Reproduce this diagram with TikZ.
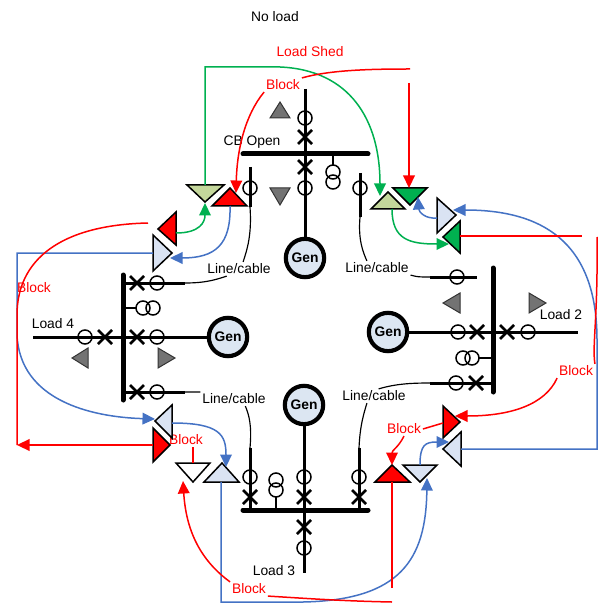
\documentclass[tikz,border=0pt]{standalone}
\usepackage{fontspec}
\setmainfont{Liberation Sans}
\usetikzlibrary{calc,arrows.meta}
\definecolor{sigred}{HTML}{FF0000}
\definecolor{siggreen}{HTML}{00B050}
\definecolor{sigblue}{HTML}{4472C4}
\definecolor{palblue}{HTML}{DAE3F3}
\definecolor{palolive}{HTML}{C4D79B}
\definecolor{genblue}{HTML}{DCE6F2}
\tikzset{
	bus/.style={line width=3pt, line cap=round},
	feeder/.style={line width=1.8pt},
	cable/.style={line width=0.7pt},
	cbline/.style={line width=1.5pt},
	ctline/.style={line width=0.9pt},
	gen/.style={circle, draw, line width=2.5pt, fill=genblue, minimum size=23pt, inner sep=0pt, font=\fontsize{8.3}{10}\selectfont\bfseries},
	lbl/.style={inner sep=1pt, font=\fontsize{8.3}{10}\selectfont},
	redlbl/.style={lbl, text=sigred},
	tri/.style={draw, line width=0.9pt, line join=miter},
	greytri/.style={draw=black!80, fill=black!55, line width=0.6pt},
	sig/.style={line width=0.9pt},
	sigarrow/.style={sig, -{Triangle[length=7.5pt,width=7pt]}},
}
\def\cbcross(#1){\draw[cbline] ($(#1)+(-7,-7)$) -- ($(#1)+(7,7)$) ($(#1)+(-7,7)$) -- ($(#1)+(7,-7)$);}
\def\ctring(#1){\draw[ctline] (#1) circle (4.2pt);}

\begin{document}
\begin{tikzpicture}[x=0.6pt, y=-0.6pt]
		%%%%% START %%%%%
		\useasboundingbox (0,0) rectangle (605,607);
		
		% top station
		\node[gen] (gen-top) at (305,258) {Gen};
		\draw[bus] (243,154) -- (368,154);
		\draw[feeder] (305,89) -- (gen-top);
		\ctring(305,118) \cbcross(305,137) \cbcross(305,167) \ctring(305,188)
		\draw[ctline] (333,154) -- (333,165);
		\ctring(333,172) \ctring(333,182)
		\draw[feeder] (250,167) -- (250,207);
		\draw[feeder] (360,173) -- (360,217);
		\ctring(250,188) \ctring(360,188)
		\draw[greytri] (270,118) -- (290,118) -- (280,102) -- cycle;
		\draw[greytri] (270,188) -- (290,188) -- (280,205) -- cycle;
		
		% left station
		\node[gen] (gen-left) at (228,337) {Gen};
		\draw[bus] (123,275) -- (123,400);
		\draw[feeder] (33,337) -- (gen-left);
		\draw[feeder] (123,283) -- (185,283);
		\draw[feeder] (123,392) -- (185,392);
		\draw[ctline] (123,308) -- (136,308);
		\ctring(143,308) \ctring(153,308)
		\ctring(85,337) \cbcross(105,337) \cbcross(137,337) \ctring(157,337)
		\cbcross(137,283) \ctring(157,283) \cbcross(137,392) \ctring(157,392)
		\draw[greytri] (88,348) -- (88,368) -- (72,358) -- cycle;
		\draw[greytri] (158,348) -- (158,368) -- (175,358) -- cycle;
		
		% right station
		\node[gen] (gen-right) at (388,332) {Gen};
		\draw[bus] (493,268) -- (493,392);
		\draw[feeder] (gen-right) -- (578,332);
		\draw[feeder] (430,277) -- (477,277);
		\draw[feeder] (430,383) -- (493,383);
		\draw[ctline] (478,358) -- (493,358);
		\ctring(463,358) \ctring(472,358)
		\ctring(458,332) \cbcross(477,332) \cbcross(507,332) \ctring(528,332)
		\ctring(457,277) \ctring(456,383) \cbcross(476,383)
		\draw[greytri] (460,293) -- (460,313) -- (443,303) -- cycle;
		\draw[greytri] (529,293) -- (529,313) -- (546,303) -- cycle;
		
		% bottom station
		\node[gen] (gen-bottom) at (304,405) {Gen};
		\draw[bus] (243,510) -- (368,510);
		\draw[feeder] (gen-bottom) -- (304,573);
		\draw[feeder] (250,448) -- (250,510);
		\draw[feeder] (359,448) -- (359,510);
		\draw[ctline] (276,497) -- (276,510);
		\ctring(276,480) \ctring(276,490)
		\ctring(304,477) \cbcross(304,497) \cbcross(304,527) \ctring(304,548)
		\ctring(250,477) \cbcross(250,497) \ctring(359,477) \cbcross(359,497)
		
		% labels
		\node[lbl] (noload) at (275,17) {No load};
		\node[redlbl] (loadshed) at (310,52) {Load Shed};
		\node[redlbl] (block-top) at (283,85) {Block};
		\node[lbl] (cbopen) at (252,142) {CB Open};
		\node[lbl] (cable-tl) at (239,269) {Line/cable};
		\node[lbl] (cable-tr) at (377,268) {Line/cable};
		\node[lbl] (cable-bl) at (234,399) {Line/cable};
		\node[lbl] (cable-br) at (374,396) {Line/cable};
		\node[lbl] (load4) at (53,324) {Load 4};
		\node[lbl] (load2) at (561,315) {Load 2};
		\node[lbl] (load3) at (274,571) {Load 3};
		\node[redlbl] (block-left) at (34,288) {Block};
		\node[redlbl] (block-bl) at (186,440) {Block};
		\node[redlbl] (block-br) at (404,429) {Block};
		\node[redlbl] (block-right) at (576,371) {Block};
		\node[redlbl] (block-bottom) at (249,589) {Block};
		
		% line/cable runs
		\draw[cable] (250,207) .. controls (252,235) and (247,250) .. (cable-tl.60);
		\draw[cable] (185,283) .. controls (205,283) and (215,280) .. (cable-tl.-150);
		\draw[cable] (360,217) .. controls (358,240) and (363,252) .. (cable-tr.145);
		\draw[cable] (cable-tr.south east) .. controls (418,277) .. (430,277);
		\draw[cable] (185,392) .. controls (193,392) .. (cable-bl.north west);
		\draw[cable] (250,448) .. controls (252,425) and (249,415) .. (cable-bl.-32);
		\draw[cable] (359,448) .. controls (360,425) and (364,413) .. (cable-br.-135);
		\draw[cable] (430,383) .. controls (410,383) and (395,384) .. (cable-br.57);
		
		% signal triangles
		\draw[tri, fill=palolive] (187,185) -- (224,185) -- (205,202) -- cycle;
		\draw[tri, fill=sigred] (212,206) -- (247,206) -- (230,188) -- cycle;
		\draw[tri, fill=sigred] (176,212) -- (176,245) -- (158,229) -- cycle;
		\draw[tri, fill=palblue] (153,235) -- (153,271) -- (172,253) -- cycle;
		\draw[tri, fill=palolive] (371,209) -- (405,209) -- (388,192) -- cycle;
		\draw[tri, fill=siggreen] (393,188) -- (427,188) -- (410,205) -- cycle;
		\draw[tri, fill=palblue] (437,198) -- (437,233) -- (456,215) -- cycle;
		\draw[tri, fill=siggreen] (460,221) -- (460,253) -- (443,237) -- cycle;
		\draw[tri, fill=palblue] (172,405) -- (172,438) -- (155,421) -- cycle;
		\draw[tri, fill=sigred] (153,428) -- (153,462) -- (170,445) -- cycle;
		\draw[tri, fill=white] (176,463) -- (210,463) -- (193,482) -- cycle;
		\draw[tri, fill=palblue] (204,482) -- (239,482) -- (222,463) -- cycle;
		\draw[tri, fill=sigred] (375,482) -- (410,482) -- (392,465) -- cycle;
		\draw[tri, fill=palblue] (403,465) -- (437,465) -- (420,482) -- cycle;
		\draw[tri, fill=sigred] (443,406) -- (443,438) -- (460,422) -- cycle;
		\draw[tri, fill=palblue] (461,432) -- (461,466) -- (443,449) -- cycle;
		
		% connection points
		\coordinate (tl-olive) at (205,185);
		\coordinate (tl-olive-tip) at (205,203);
		\coordinate (tl-red) at (230,206);
		\coordinate (tl-red-tip) at (236,193);
		\coordinate (tl-redl) at (176,233);
		\coordinate (tl-redl-out) at (148,223);
		\coordinate (tl-blue) at (153,253);
		\coordinate (tl-blue-tip) at (170,258);
		\coordinate (tr-olive) at (392,209);
		\coordinate (tr-olive-tip) at (380,196);
		\coordinate (tr-green) at (409,188);
		\coordinate (tr-green-tip) at (418,197);
		\coordinate (tr-blue) at (437,218);
		\coordinate (tr-blue-tip) at (453,210);
		\coordinate (tr-greenl) at (460,236);
		\coordinate (tr-greenl-tip) at (449,244);
		\coordinate (bl-blue) at (172,423);
		\coordinate (bl-blue-tip) at (155,419);
		\coordinate (bl-red) at (153,445);
		\coordinate (bl-white) at (193,463);
		\coordinate (bl-white-tip) at (183,481);
		\coordinate (bl-blueup) at (221,482);
		\coordinate (bl-blueup-tip) at (226,467);
		\coordinate (br-red) at (392,482);
		\coordinate (br-red-tip) at (392,465);
		\coordinate (br-blue) at (420,465);
		\coordinate (br-blue-tip) at (427,478);
		\coordinate (br-redr) at (443,423);
		\coordinate (br-redr-tip) at (455,416);
		\coordinate (br-bluel) at (461,449);
		\coordinate (br-bluel-tip) at (449,442);
		\coordinate (shed-end) at (410,69);
		\coordinate (shed-drop) at (409,83);
		\coordinate (right-end) at (582,236);
		\coordinate (right-drop) at (597,237);
		\coordinate (left-corner) at (17,445);
		\coordinate (bottom-end) at (392,602);
		\coordinate (bottom-rise) at (392,588);
		
		% green signals
		\draw[sigarrow, siggreen] (tl-olive) |- (280,67) .. controls (350,70) and (380,120) .. (tr-olive-tip);
		\draw[sigarrow, siggreen] (tl-redl) .. controls (200,233) and (205,222) .. (tl-olive-tip);
		\draw[sigarrow, siggreen] (tr-olive) .. controls (392,240) and (410,244) .. (tr-greenl-tip);
		
		% blue signals
		\draw[sigarrow, sigblue] (tl-red) .. controls (231,245) and (215,258) .. (tl-blue-tip);
		\draw[sigarrow, sigblue] (tl-blue) -| (17,335) .. controls (20,400) and (90,417) .. (bl-blue-tip);
		\draw[sigarrow, sigblue] (bl-blue) .. controls (220,423) and (226,435) .. (bl-blueup-tip);
		\draw[sigarrow, sigblue] (bl-blueup) |- (303,602) .. controls (400,600) and (426,560) .. (br-blue-tip);
		\draw[sigarrow, sigblue] (br-blue) .. controls (420,445) and (425,442) .. (br-bluel-tip);
		\draw[sigarrow, sigblue] (br-bluel) -| (597,340) .. controls (597,240) and (540,210) .. (tr-blue-tip);
		\draw[sigarrow, sigblue] (tr-blue) .. controls (425,219) and (419,212) .. (tr-green-tip);
		
		% red signals
		\draw[sigarrow, sigred] (block-top.south west) .. controls (245,115) and (237,150) .. (tl-red-tip);
		\draw[sig, sigred] (block-top.north east) .. controls (330,70) and (370,69) .. (shed-end);
		\draw[sigarrow, sigred] (shed-drop) -- (tr-green);
		\draw[sig, sigred] (tr-greenl) -- (right-end);
		\draw[sig, sigred] (right-drop) .. controls (598,320) and (592,345) .. (block-right.north east);
		\draw[sigarrow, sigred] (block-right.south west) .. controls (545,405) and (510,416) .. (br-redr-tip);
		\draw[sig, sigred] (br-redr) -- (block-br.east);
		\draw[sigarrow, sigred] (block-br.south) .. controls (398,448) and (392,450) .. (br-red-tip);
		\draw[sig, sigred] (br-red) -- (bottom-rise);
		\draw[sig, sigred] (block-bottom.south east) .. controls (300,598) and (340,601) .. (bottom-end);
		\draw[sigarrow, sigred] (block-bottom.north west) .. controls (200,560) and (186,530) .. (bl-white-tip);
		\draw[sig, sigred] (block-bl.south -| bl-white) -- (bl-white);
		\draw[sigarrow, sigred] (bl-red) -- (left-corner);
		\draw[sig, sigred] (tl-redl-out) .. controls (60,225) and (17,260) .. (17,315) -- (left-corner);
		
		%%%%% END %%%%%
\end{tikzpicture}
\end{document}
